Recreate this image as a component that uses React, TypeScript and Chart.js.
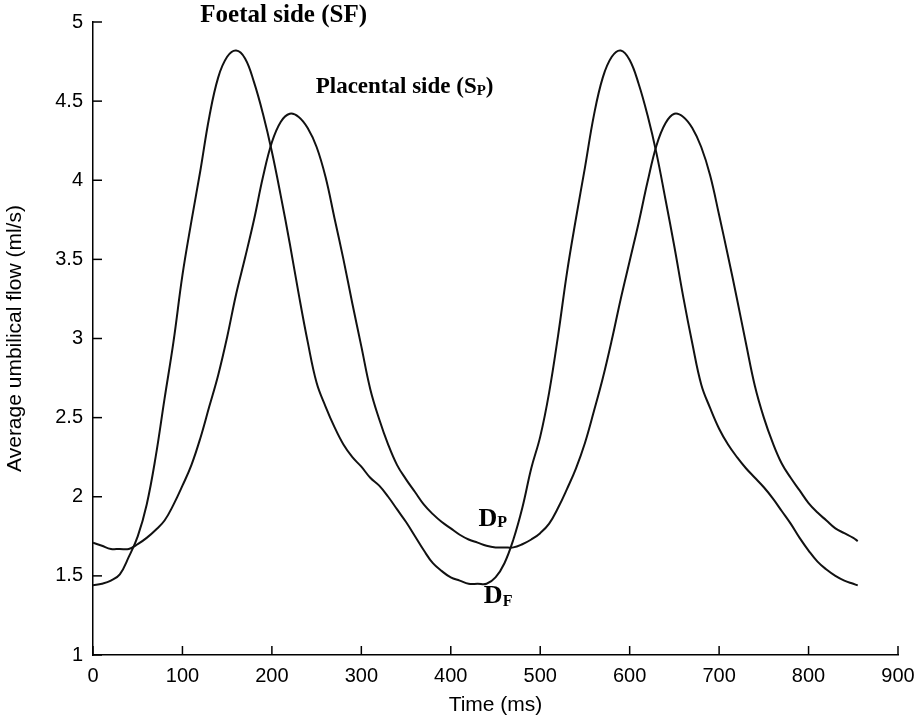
import React, { useEffect, useRef } from "react";
import { Chart, registerables } from "chart.js";

Chart.register(...registerables);

// Foetal side (SF)
const sfTime = [0, 10, 20, 30, 40, 50, 60, 70, 80, 90, 100, 110, 120, 130, 140, 150, 160, 170, 180, 190, 200, 210, 220, 230, 240, 250, 260, 270, 280, 290, 300, 310, 320, 330, 340, 350, 360, 370, 380, 390, 400, 410, 420, 430, 440, 450, 460, 470, 480, 490, 500, 510, 520, 530, 540, 550, 560, 570, 580, 590, 600, 610, 620, 630, 640, 650, 660, 670, 680, 690, 700, 710, 720, 730, 740, 750, 760, 770, 780, 790, 800, 810, 820, 830, 840, 850, 855];
const sfFlow = [1.44, 1.45, 1.47, 1.51, 1.62, 1.75, 1.95, 2.25, 2.62, 2.98, 3.40, 3.74, 4.06, 4.40, 4.65, 4.78, 4.82, 4.77, 4.62, 4.42, 4.18, 3.90, 3.60, 3.28, 2.98, 2.72, 2.57, 2.44, 2.33, 2.25, 2.19, 2.12, 2.07, 2.00, 1.92, 1.84, 1.75, 1.66, 1.58, 1.53, 1.49, 1.47, 1.45, 1.45, 1.45, 1.49, 1.58, 1.73, 1.93, 2.18, 2.38, 2.66, 3.02, 3.42, 3.76, 4.08, 4.41, 4.65, 4.78, 4.82, 4.76, 4.61, 4.41, 4.17, 3.88, 3.58, 3.26, 2.97, 2.71, 2.56, 2.43, 2.33, 2.25, 2.18, 2.12, 2.06, 1.99, 1.91, 1.83, 1.74, 1.66, 1.59, 1.54, 1.50, 1.47, 1.45, 1.44];

// Placental side (SP)
const spTime = [0, 10, 20, 30, 40, 50, 60, 70, 80, 90, 100, 110, 120, 130, 140, 150, 160, 170, 180, 190, 200, 210, 220, 230, 240, 250, 260, 270, 280, 290, 300, 310, 320, 330, 340, 350, 360, 370, 380, 390, 400, 410, 420, 430, 440, 450, 460, 470, 480, 490, 500, 510, 520, 530, 540, 550, 560, 570, 580, 590, 600, 610, 620, 630, 640, 650, 660, 670, 680, 690, 700, 710, 720, 730, 740, 750, 760, 770, 780, 790, 800, 810, 820, 830, 840, 850, 855];
const spFlow = [1.71, 1.69, 1.67, 1.67, 1.67, 1.70, 1.74, 1.79, 1.85, 1.95, 2.07, 2.20, 2.37, 2.57, 2.77, 3.01, 3.28, 3.51, 3.75, 4.02, 4.24, 4.37, 4.42, 4.40, 4.33, 4.21, 4.02, 3.76, 3.50, 3.22, 2.95, 2.68, 2.49, 2.33, 2.20, 2.11, 2.03, 1.95, 1.89, 1.84, 1.80, 1.76, 1.73, 1.71, 1.69, 1.68, 1.68, 1.68, 1.70, 1.73, 1.77, 1.83, 1.93, 2.05, 2.18, 2.34, 2.54, 2.75, 2.99, 3.25, 3.49, 3.73, 3.99, 4.22, 4.36, 4.42, 4.40, 4.33, 4.21, 4.03, 3.78, 3.52, 3.25, 2.97, 2.70, 2.50, 2.34, 2.21, 2.12, 2.04, 1.96, 1.90, 1.85, 1.80, 1.77, 1.74, 1.72];

const xTitle = "Time (ms)";
const yTitle = "Average umbilical flow (ml/s)";

// annotation anchors in data coordinates [time, flow]
const labelFoetal = { t: 120, v: 5.04 };
const labelPlacental = { t: 249, v: 4.59 };
const labelDP = { t: 431, v: 1.86 };
const labelDF = { t: 437, v: 1.37 };

const TICK_FONT = "'Liberation Sans', Arial, sans-serif";
const SERIF = "'Liberation Serif', 'Times New Roman', serif";

function drawSubText(
  ctx: CanvasRenderingContext2D,
  x: number,
  y: number,
  parts: { text: string; font: string; dy: number }[]
) {
  let cx = x;
  for (const p of parts) {
    ctx.font = p.font;
    ctx.fillText(p.text, cx, y + p.dy);
    cx += ctx.measureText(p.text).width;
  }
}

const decoPlugin = {
  id: "deco",
  afterDraw(chart: any) {
    const { ctx, chartArea, scales } = chart;
    const x = scales.x;
    const y = scales.y;
    ctx.save();
    ctx.strokeStyle = "#000";
    ctx.lineWidth = 1.5;
    // inward ticks
    x.ticks.forEach((t: any) => {
      const px = x.getPixelForValue(t.value);
      ctx.beginPath();
      ctx.moveTo(px, chartArea.bottom);
      ctx.lineTo(px, chartArea.bottom - 9);
      ctx.stroke();
    });
    y.ticks.forEach((t: any) => {
      const py = y.getPixelForValue(t.value);
      ctx.beginPath();
      ctx.moveTo(chartArea.left, py);
      ctx.lineTo(chartArea.left + 9, py);
      ctx.stroke();
    });
    // annotations
    ctx.fillStyle = "#000";
    ctx.textBaseline = "middle";
    ctx.textAlign = "left";
    drawSubText(ctx, x.getPixelForValue(labelFoetal.t), y.getPixelForValue(labelFoetal.v), [
      { text: "Foetal side (SF)", font: `bold 25px ${SERIF}`, dy: 0 },
    ]);
    drawSubText(ctx, x.getPixelForValue(labelPlacental.t), y.getPixelForValue(labelPlacental.v), [
      { text: "Placental side (S", font: `bold 23px ${SERIF}`, dy: 0 },
      { text: "P", font: `bold 15px ${SERIF}`, dy: 4 },
      { text: ")", font: `bold 23px ${SERIF}`, dy: 0 },
    ]);
    drawSubText(ctx, x.getPixelForValue(labelDP.t), y.getPixelForValue(labelDP.v), [
      { text: "D", font: `bold 26px ${SERIF}`, dy: 0 },
      { text: "P", font: `bold 16px ${SERIF}`, dy: 4 },
    ]);
    drawSubText(ctx, x.getPixelForValue(labelDF.t), y.getPixelForValue(labelDF.v), [
      { text: "D", font: `bold 26px ${SERIF}`, dy: 0 },
      { text: "F", font: `bold 16px ${SERIF}`, dy: 5 },
    ]);
    ctx.restore();
  },
};

export default function App() {
  const ref = useRef<HTMLCanvasElement | null>(null);
  useEffect(() => {
    if (!ref.current) return;
    const chart = new Chart(ref.current, {
      type: "line",
      data: {
        datasets: [
          {
            label: "Foetal side (SF)",
            data: sfTime.map((t, i) => ({ x: t, y: sfFlow[i] })),
            borderColor: "#111",
            borderWidth: 2,
            pointRadius: 0,
            tension: 0.4,
            fill: false,
          },
          {
            label: "Placental side (SP)",
            data: spTime.map((t, i) => ({ x: t, y: spFlow[i] })),
            borderColor: "#111",
            borderWidth: 2,
            pointRadius: 0,
            tension: 0.4,
            fill: false,
          },
        ],
      },
      options: {
        animation: false,
        responsive: false,
        layout: { padding: { top: 22, right: 20, left: 0, bottom: 0 } },
        plugins: { legend: { display: false }, tooltip: { enabled: false } },
        scales: {
          x: {
            type: "linear",
            min: 0,
            max: 900,
            grid: { display: false, drawTicks: false },
            border: { display: true, color: "#000", width: 1.5 },
            ticks: {
              stepSize: 100,
              padding: 9,
              color: "#000",
              font: { family: TICK_FONT, size: 20 },
              maxRotation: 0,
              callback: (v: any) => String(v),
            },
            title: {
              display: true,
              text: xTitle,
              color: "#000",
              font: { family: TICK_FONT, size: 21 },
              padding: { top: 4, bottom: 3 },
            },
            afterFit: (s: any) => {
              s.height = 66;
              s.paddingLeft = 0;
              s.paddingRight = 0;
            },
          },
          y: {
            min: 1,
            max: 5,
            grid: { display: false, drawTicks: false },
            border: { display: true, color: "#000", width: 1.5 },
            ticks: {
              stepSize: 0.5,
              padding: 10,
              color: "#000",
              font: { family: TICK_FONT, size: 20 },
              callback: (v: any) => String(v),
            },
            title: {
              display: true,
              text: yTitle,
              color: "#000",
              font: { family: TICK_FONT, size: 21 },
              padding: { top: 3, bottom: 4 },
            },
            afterFit: (s: any) => {
              s.width = 93;
              s.paddingTop = 0;
              s.paddingBottom = 0;
            },
          },
        },
      },
      plugins: [decoPlugin],
    });
    return () => chart.destroy();
  }, []);
  return (
    <div style={{ position: "absolute", left: 0, top: 0, width: 918, height: 721, background: "#fff" }}>
      <canvas ref={ref} width={918} height={721} style={{ display: "block" }} />
    </div>
  );
}
